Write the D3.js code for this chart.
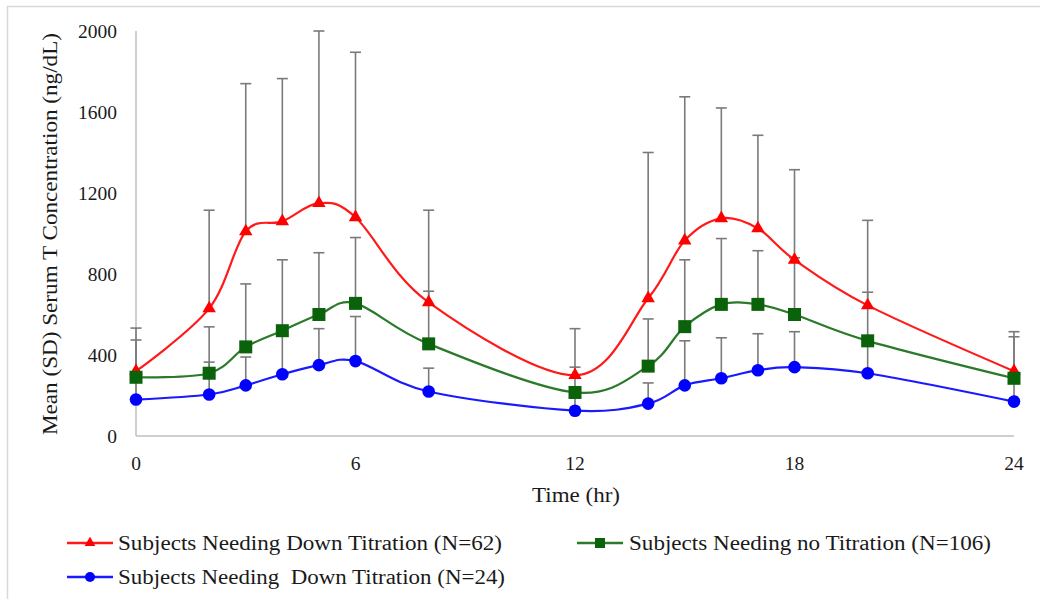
<!DOCTYPE html>
<html>
<head>
<meta charset="utf-8">
<script src="https://cdn.jsdelivr.net/npm/d3@7"></script>
<style>
  html, body { margin: 0; padding: 0; background: #fff; }
  svg { display: block; }
  text { font-family: "Liberation Serif", "Times New Roman", serif; fill: #1a1a1a; }
</style>
</head>
<body>
<svg id="chart" width="1040" height="599"></svg>
<script>
// Sampling times (hours after dose)
const times = [0, 2, 3, 4, 5, 6, 8, 12, 14, 15, 16, 17, 18, 20, 24];

// Mean serum T (ng/dL) and upper SD for each group
const downMean62 = [320, 630, 1010, 1060, 1150, 1080, 660, 300, 680, 965, 1075, 1025, 870, 645, 320];
const downSD62   = [213, 485, 730, 705, 850, 815, 455, 230, 720, 710, 545, 460, 445, 420, 195];

const noneMean106 = [290, 310, 440, 520, 600, 655, 455, 215, 345, 540, 650, 650, 600, 470, 285];
const noneSD106   = [184, 229, 311, 350, 305, 325, 260, 125, 233, 330, 325, 265, 280, 240, 205];

const downMean24 = [180, 205, 250, 305, 350, 370, 220, 125, 160, 250, 285, 325, 340, 310, 170];
const downSD24   = [90, 160, 140, 210, 180, 220, 115, 85, 102, 220, 200, 180, 175, 150, 110];

const xTicks = [0, 6, 12, 18, 24];
const yTicks = [0, 400, 800, 1200, 1600, 2000];

const seriesNames = [
  "Subjects Needing Down Titration (N=62)",
  "Subjects Needing no Titration (N=106)",
  "Subjects Needing\u00a0 Down Titration (N=24)"
];

const series = [
  { name: seriesNames[0], mean: downMean62, sd: downSD62, line: "#ff1a1a", fill: "#ff0000", shape: "triangle" },
  { name: seriesNames[1], mean: noneMean106, sd: noneSD106, line: "#2a7a2a", fill: "#0a620a", shape: "square" },
  { name: seriesNames[2], mean: downMean24, sd: downSD24, line: "#1a1aff", fill: "#0000ff", shape: "circle" }
];

const svg = d3.select("#chart");

// outer frame
svg.append("path")
  .attr("d", "M7.5,599 L7.5,6.5 L1040,6.5")
  .attr("fill", "none")
  .attr("stroke", "#d9d9d9")
  .attr("stroke-width", 1.5);

const x = d3.scaleLinear().domain([0, 24]).range([136, 1014]);
const y = d3.scaleLinear().domain([0, 2000]).range([436, 31]);

// axis lines
svg.append("line")
  .attr("x1", x(0)).attr("x2", x(0)).attr("y1", y(2000)).attr("y2", y(0))
  .attr("stroke", "#bfbfbf").attr("stroke-width", 1.5);
svg.append("line")
  .attr("x1", x(0)).attr("x2", x(24)).attr("y1", y(0)).attr("y2", y(0))
  .attr("stroke", "#bfbfbf").attr("stroke-width", 1.5);

// tick labels
svg.append("g").selectAll("text").data(yTicks).join("text")
  .attr("x", 117)
  .attr("y", d => y(d) + 7)
  .attr("text-anchor", "end")
  .attr("font-size", 19.5)
  .text(d => d);

svg.append("g").selectAll("text").data(xTicks).join("text")
  .attr("x", d => x(d))
  .attr("y", 470)
  .attr("text-anchor", "middle")
  .attr("font-size", 19.5)
  .text(d => d);

// axis titles
svg.append("text")
  .attr("x", 576)
  .attr("y", 502)
  .attr("text-anchor", "middle")
  .attr("font-size", 21)
  .attr("textLength", 88)
  .attr("lengthAdjust", "spacingAndGlyphs")
  .text("Time (hr)");

svg.append("text")
  .attr("transform", "translate(57,234) rotate(-90)")
  .attr("text-anchor", "middle")
  .attr("font-size", 21)
  .attr("textLength", 402)
  .attr("lengthAdjust", "spacingAndGlyphs")
  .text("Mean (SD) Serum T Concentration (ng/dL)");

// marker drawing
function marker(sel, shape, color) {
  if (shape === "triangle") {
    sel.append("path").attr("d", d3.symbol(d3.symbolTriangle, 78)()).attr("fill", color);
  } else if (shape === "square") {
    sel.append("rect").attr("x", -6.5).attr("y", -6.5).attr("width", 13).attr("height", 13).attr("fill", color);
  } else {
    sel.append("circle").attr("r", 6.3).attr("fill", color);
  }
}

// upper SD error bars
const capHalf = 5.5;
series.forEach(s => {
  const g = svg.append("g");
  times.forEach((t, i) => {
    const top = y(s.mean[i] + s.sd[i]);
    g.append("line")
      .attr("x1", x(t)).attr("x2", x(t))
      .attr("y1", y(s.mean[i])).attr("y2", top)
      .attr("stroke", "#7a7a7a").attr("stroke-width", 1.6);
    g.append("line")
      .attr("x1", x(t) - capHalf).attr("x2", x(t) + capHalf)
      .attr("y1", top).attr("y2", top)
      .attr("stroke", "#7a7a7a").attr("stroke-width", 1.6);
  });
});

// smoothed lines with markers
const lineGen = d3.line()
  .x((d, i) => x(times[i]))
  .y(d => y(d))
  .curve(d3.curveCardinal.tension(0));

series.forEach(s => {
  svg.append("path")
    .attr("d", lineGen(s.mean))
    .attr("fill", "none")
    .attr("stroke", s.line)
    .attr("stroke-width", 2.2);
  svg.append("g").selectAll("g").data(s.mean).join("g")
    .attr("transform", (d, i) => `translate(${x(times[i])},${y(d)})`)
    .each(function () { marker(d3.select(this), s.shape, s.fill); });
});

// legend
const legendItems = [
  { s: series[0], lx: 67, ly: 543, tx: 118, tl: 384 },
  { s: series[1], lx: 577, ly: 543, tx: 629, tl: 362 },
  { s: series[2], lx: 67, ly: 577, tx: 118, tl: 387 }
];
legendItems.forEach(it => {
  const g = svg.append("g");
  g.append("line")
    .attr("x1", it.lx).attr("x2", it.lx + 46)
    .attr("y1", it.ly).attr("y2", it.ly)
    .attr("stroke", it.s.line).attr("stroke-width", 2.5);
  const m = g.append("g").attr("transform", `translate(${it.lx + 23},${it.ly})`);
  if (it.s.shape === "triangle") {
    m.append("path").attr("d", d3.symbol(d3.symbolTriangle, 50)()).attr("fill", it.s.fill);
  } else if (it.s.shape === "square") {
    m.append("rect").attr("x", -5).attr("y", -5).attr("width", 10).attr("height", 10).attr("fill", it.s.fill);
  } else {
    m.append("circle").attr("r", 5).attr("fill", it.s.fill);
  }
  g.append("text")
    .attr("x", it.tx)
    .attr("y", it.ly + 7)
    .attr("font-size", 20)
    .attr("textLength", it.tl)
    .attr("lengthAdjust", "spacingAndGlyphs")
    .text(it.s.name);
});
</script>
</body>
</html>
